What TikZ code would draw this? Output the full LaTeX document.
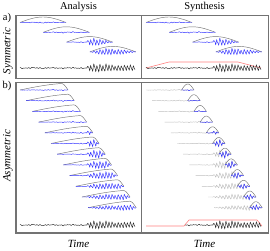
\documentclass[tikz,border=0pt]{standalone}
\usepackage{fontspec}
\setmainfont{Liberation Serif}
\begin{document}
\begin{tikzpicture}[x=1pt,y=-1pt,
 declare function={
  nz(\x)=0.45*sin(\x*131+10)+0.35*sin(\x*89+50)+0.3*sin(\x*53+120)+0.35*sin(\x*19+200);
  ev(\x)=(\x<66)?0:((\x<70)?((\x-66)/4):(1-0.4*(\x-70)/46));
  vo(\x)=sin(\x*118)+0.7*sin(\x*118)*cos(\x*118)+0.25*sin(\x*59+30);
  sg(\x)=0.6*nz(\x)+2.9*ev(\x)*vo(\x);
  aw(\x)=(\x<0.86)?(0.45*\x/0.86+0.55*sin(90*\x/0.86)):(cos(90*(\x-0.86)/0.14));
  bw(\x)=(\x<0.74)?0:(sin(180*(\x-0.74)/0.26));
 },
 frame/.style={draw=black!55,line width=0.5pt},
 axisl/.style={draw=black!55,line width=1.1pt},
 envl/.style={draw=black!55,line width=0.45pt},
 sigl/.style={draw=blue!80!white,line width=0.45pt},
 lgray/.style={draw=black!25,line width=0.45pt},
 wave/.style={draw=black!85,line width=0.45pt},
 redl/.style={draw=red!50,line width=0.6pt,line join=round},
 lab/.style={font=\fontsize{10.5}{12}\selectfont,inner sep=0pt},
 ilab/.style={font=\fontsize{11}{12}\selectfont\itshape,inner sep=0pt}
]
\useasboundingbox (0,0) rectangle (270,250);

% frames
\draw[frame] (16,15) rectangle (268,78.5);
\draw[frame] (16,82) rectangle (268,233);
\draw[axisl] (16,15) -- (16,78.5) -- (268,78.5);
\draw[axisl] (16,82) -- (16,233) -- (268,233);
\draw[frame] (141,15) -- (141,78.5);
\draw[frame] (141,82) -- (141,233);

% labels
\node[lab] (ta) at (78.5,7) {Analysis};
\node[lab] (ts) at (204.5,7) {Synthesis};
\node[lab] (la) at (7,17.5) {a)};
\node[lab] (lb) at (7,85.5) {b)};
\node[ilab,rotate=90] (sy) at (8,51) {Symmetric};
\node[ilab,rotate=90] (asy) at (8,156) {Asymmetric};
\node[ilab] (t1) at (78.5,243.5) {Time};
\node[ilab] (t2) at (204.5,243.5) {Time};

% panel a frames
\foreach \i in {0,...,3}{
  \pgfmathsetmacro\xa{20+23.3*\i}
  \pgfmathsetmacro\ya{22.5+9.8*\i}
  \pgfmathsetmacro\off{\xa-20}
  \foreach \dx in {0,126}{
   \draw[envl] plot[domain=0:46,samples=40] ({\xa+\dx+\x},{\ya-5.5*sin(180*\x/46)});
   \draw[sigl] plot[domain=0:46,samples=139] ({\xa+\dx+\x},{\ya-sin(180*\x/46)*sg(\x+\off)});
  }
}
% panel a bottoms
\draw[wave] plot[domain=0:115,samples=346] ({20+\x},{68-sg(\x)});
\draw[redl] (146,68) -- (169,62) -- (238,62) -- (261,68);
\draw[wave] plot[domain=0:115,samples=346] ({146+\x},{68-sg(\x)});

% panel b frames
\foreach \i in {0,...,11}{
  \pgfmathsetmacro\xa{20+6.2*\i}
  \pgfmathsetmacro\ya{90+10.7*\i}
  \pgfmathsetmacro\off{\xa-20}
  \draw[envl] plot[domain=0:48,samples=60] ({\xa+\x},{\ya-6.5*aw(\x/48)});
  \draw[sigl] plot[domain=0:48,samples=145] ({\xa+\x},{\ya-aw(\x/48)*sg(\x+\off)});
  \draw[lgray] plot[domain=0:48,samples=145] ({\xa+126+\x},{\ya-aw(\x/48)*sg(\x+\off)});
  \draw[envl] plot[domain=35.5:48,samples=25] ({\xa+126+\x},{\ya-6*bw(\x/48)});
  \draw[sigl] plot[domain=35.5:48,samples=40] ({\xa+126+\x},{\ya-aw(\x/48)*bw(\x/48)*sg(\x+\off)});
}
% panel b bottoms
\draw[wave] plot[domain=0:115,samples=346] ({20+\x},{225-sg(\x)});
\draw[redl] (146,226) -- (184,226) -- (189,220) -- (257,220) -- (262,226);
\draw[wave] plot[domain=39:115,samples=229] ({146+\x},{225-sg(\x)});
\end{tikzpicture}
\end{document}
